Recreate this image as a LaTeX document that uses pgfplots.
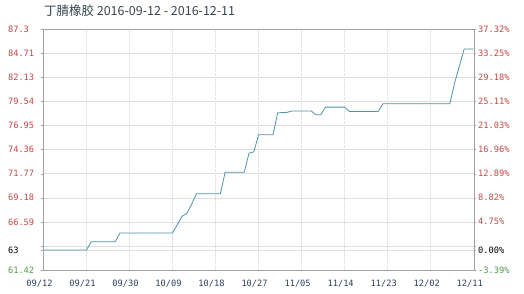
\documentclass[border=0pt]{standalone}
\usepackage{pgfplots}
\pgfplotsset{compat=1.18}
\usepackage{fontspec}
\newfontfamily\cjk{Noto Sans CJK SC}
\newfontfamily\monof{DejaVu Sans Mono}
\definecolor{linec}{HTML}{4A94A4}
\definecolor{lred}{HTML}{C04848}
\definecolor{lgreen}{HTML}{4E9A4E}
\definecolor{titlec}{HTML}{36454F}
\definecolor{xlab}{HTML}{2B3F5C}
\definecolor{framec}{HTML}{A0A0A0}
\pgfplotstableread{
d v
0 63.575
9 63.575
10 64.46
15 64.46
16 65.40
27 65.40
28 66.30
29 67.20
30 67.50
31 68.50
32 69.60
37 69.60
38 71.92
42 71.92
43 73.97
44 74.10
45 75.94
48 75.94
49 78.30
51 78.35
52 78.50
56 78.50
57 78.09
58 78.09
59 78.91
63 78.91
64 78.44
70 78.44
71 79.27
85 79.27
86 81.49
87 83.30
88 85.15
90 85.15
}\pricedata
\begin{document}
\begin{tikzpicture}
\path[use as bounding box] (-43.5pt,-24pt) rectangle (480.5pt,270pt);
\begin{axis}[
  at={(0,0)}, anchor=south west,
  scale only axis, width=430.2pt, height=241pt,
  xmin=0, xmax=90, ymin=61.42, ymax=87.3,
  axis line style={framec},
  xtick={0,9,...,90},
  xticklabels={09/12,09/21,09/30,10/09,10/18,10/27,11/05,11/14,11/23,12/02,12/11},
  xticklabel style={font=\monof\fontsize{8.7}{10}\selectfont, text=xlab, xshift=-4pt, yshift=-5pt},
  xmajorgrids, major x grid style={gray!35, dash pattern=on 1pt off 1pt},
  major x tick style={draw=none},
  ytick={61.42,64.008,66.59,69.18,71.77,74.36,76.95,79.54,82.13,84.71,87.3},
  yticklabels={\textcolor{lgreen}{61.42},{},66.59,69.18,71.77,74.36,76.95,79.54,82.13,84.71,87.3},
  yticklabel style={font=\monof\fontsize{8.7}{10}\selectfont, text=lred, anchor=west, xshift=-37pt},
  ymajorgrids, major y grid style={gray!25},
  tick align=outside, major tick length=2pt,
  major y tick style={framec},
  extra y ticks={63.575}, extra y tick labels={63},
  extra y tick style={grid=major, major grid style={gray!80, solid}, yticklabel style={text=black}},
  title={\cjk 丁腈橡胶 2016-09-12 - 2016-12-11},
  title style={at={(0,1)}, anchor=base west, yshift=7pt, xshift=-3pt, font=\cjk\fontsize{12.5}{14}\selectfont, text=titlec},
]
\addplot[color=linec, line width=0.8pt, mark=none] table[x=d, y=v] {\pricedata};
\end{axis}
\begin{axis}[
  at={(0,0)}, anchor=south west,
  scale only axis, width=430.2pt, height=241pt,
  xmin=0, xmax=90, ymin=61.42, ymax=87.3,
  axis x line=none, axis y line*=right,
  axis line style={framec},
  ytick={61.42,64.008,66.59,69.18,71.77,74.36,76.95,79.54,82.13,84.71,87.3},
  yticklabels={\textcolor{lgreen}{-3.39\%},{},4.75\%,8.82\%,12.89\%,16.96\%,21.03\%,25.11\%,29.18\%,33.25\%,37.32\%},
  yticklabel style={font=\monof\fontsize{8.7}{10}\selectfont, text=lred, xshift=-1pt},
  tick align=outside, major tick length=2pt,
  major y tick style={framec},
  extra y ticks={63.575}, extra y tick labels={0.00\%},
  extra y tick style={yticklabel style={text=black}},
]
\end{axis}
\end{tikzpicture}
\end{document}
